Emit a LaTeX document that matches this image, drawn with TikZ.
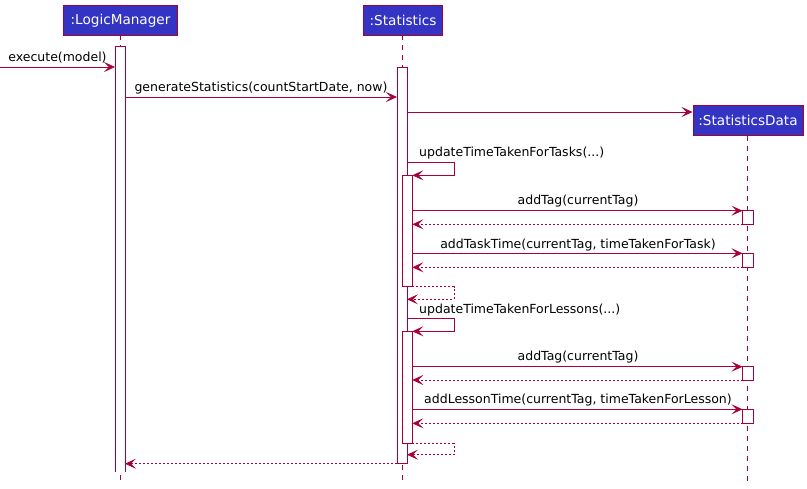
\documentclass[tikz,border=0pt]{standalone}
\usepackage{fontspec}
\setmainfont{DejaVu Sans}
\usetikzlibrary{arrows.meta}
\definecolor{lnc}{HTML}{A80036}
\definecolor{boxc}{HTML}{3333C4}
\begin{document}
\begin{tikzpicture}[x=1pt,y=-1pt,
  part/.style={draw=lnc,fill=boxc,line width=1pt,text=white,font=\fontsize{13.6}{15}\selectfont,minimum height=30pt,inner xsep=4pt,anchor=north west},
  life/.style={draw=lnc,line width=0.8pt,dash pattern=on 5pt off 5pt},
  act/.style={draw=lnc,fill=white,line width=0.8pt},
  msg/.style={draw=lnc,line width=0.8pt,-{Stealth[length=11pt,width=10pt,inset=5pt]}},
  ret/.style={draw=lnc,line width=0.8pt,dash pattern=on 2pt off 2pt,-{Stealth[length=11pt,width=10pt,inset=5pt]}},
  lbl/.style={font=\fontsize{12.5}{14}\selectfont,inner sep=0pt,text=black}]
\useasboundingbox (0,0) rectangle (807,488);
% participants
\node[part,minimum width=114pt] (lm) at (63,5) {:LogicManager};
\node[part,minimum width=79pt] (st) at (363,5) {:Statistics};
\node[part,minimum width=110pt] (sd) at (692.5,105) {:StatisticsData};
% lifelines
\coordinate (lmT) at (120,35); \coordinate (lmB) at (120,482);
\coordinate (stT) at (402,35); \coordinate (stB) at (402,482);
\coordinate (sdT) at (747.5,135.5); \coordinate (sdB) at (747.5,482);
\draw[life] (lmT) -- (lmB);
\draw[life] (stT) -- (stB);
\draw[life] (sdT) -- (sdB);
% activations
\fill[white] (115,46) rectangle (125,472);
\draw[lnc,line width=0.8pt] (115,472) -- (115,46) -- (125,46) -- (125,472);
\draw[act] (397,67) rectangle (407,463.7);
\draw[act] (402.3,175.3) rectangle (412.3,286.7);
\draw[act] (402.3,331.3) rectangle (412.3,443.3);
\draw[act] (742.5,210.7) rectangle (753,224.3);
\draw[act] (742.5,253.3) rectangle (753,267.3);
\draw[act] (742.5,366.7) rectangle (753,380);
\draw[act] (742.5,409.3) rectangle (753,423.3);
% message anchors
\coordinate (in0) at (0,67);
\coordinate (lm1) at (115,67);
\coordinate (lm2) at (125,97);
\coordinate (st2) at (397,97);
\coordinate (st3) at (407,112);
\coordinate (st4a) at (407,162);
\coordinate (st4b) at (454,162);
\coordinate (st4c) at (454,175.3);
\coordinate (st4d) at (412.3,175.3);
\coordinate (n1a) at (412.3,210.7); \coordinate (d1a) at (742.5,210.7);
\coordinate (n1b) at (412.3,224.3); \coordinate (d1b) at (742.5,224.3);
\coordinate (n2a) at (412.3,253.3); \coordinate (d2a) at (742.5,253.3);
\coordinate (n2b) at (412.3,267.3); \coordinate (d2b) at (742.5,267.3);
\coordinate (r1a) at (412.3,286.7); \coordinate (r1b) at (454,286.7);
\coordinate (r1c) at (454,299.3); \coordinate (r1d) at (407,299.3);
\coordinate (st5a) at (407,318.7);
\coordinate (st5b) at (454,318.7);
\coordinate (st5c) at (454,331.3);
\coordinate (st5d) at (412.3,331.3);
\coordinate (n3a) at (412.3,366.7); \coordinate (d3a) at (742.5,366.7);
\coordinate (n3b) at (412.3,380); \coordinate (d3b) at (742.5,380);
\coordinate (n4a) at (412.3,409.3); \coordinate (d4a) at (742.5,409.3);
\coordinate (n4b) at (412.3,423.3); \coordinate (d4b) at (742.5,423.3);
\coordinate (r2a) at (412.3,443.3); \coordinate (r2b) at (454,443.3);
\coordinate (r2c) at (454,454.7); \coordinate (r2d) at (407,454.7);
\coordinate (st6) at (397,463.7); \coordinate (lm6) at (125,463.7);
% messages
\draw[msg] (in0) -- (lm1);
\draw[msg] (lm2) -- (st2);
\draw[msg] (st3) -- (st3 -| sd.west);
\draw[msg] (st4a) -- (st4b) -- (st4c) -- (st4d);
\draw[msg] (n1a) -- (d1a);
\draw[ret] (d1b) -- (n1b);
\draw[msg] (n2a) -- (d2a);
\draw[ret] (d2b) -- (n2b);
\draw[ret] (r1a) -- (r1b) -- (r1c) -- (r1d);
\draw[msg] (st5a) -- (st5b) -- (st5c) -- (st5d);
\draw[msg] (n3a) -- (d3a);
\draw[ret] (d3b) -- (n3b);
\draw[msg] (n4a) -- (d4a);
\draw[ret] (d4b) -- (n4b);
\draw[ret] (r2a) -- (r2b) -- (r2c) -- (r2d);
\draw[ret] (st6) -- (lm6);
% labels
\node[lbl] (l1) at (57.5,58) {execute(model)};
\node[lbl] (l2) at (261,88) {generateStatistics(countStartDate, now)};
\node[lbl,anchor=west] (l3) at (419,153.3) {updateTimeTakenForTasks(...)};
\node[lbl] (l4) at (578,200.7) {addTag(currentTag)};
\node[lbl] (l5) at (578,245) {addTaskTime(currentTag, timeTakenForTask)};
\node[lbl,anchor=west] (l6) at (419,310) {updateTimeTakenForLessons(...)};
\node[lbl] (l7) at (578,356.7) {addTag(currentTag)};
\node[lbl] (l8) at (578,400) {addLessonTime(currentTag, timeTakenForLesson)};
\end{tikzpicture}
\end{document}
